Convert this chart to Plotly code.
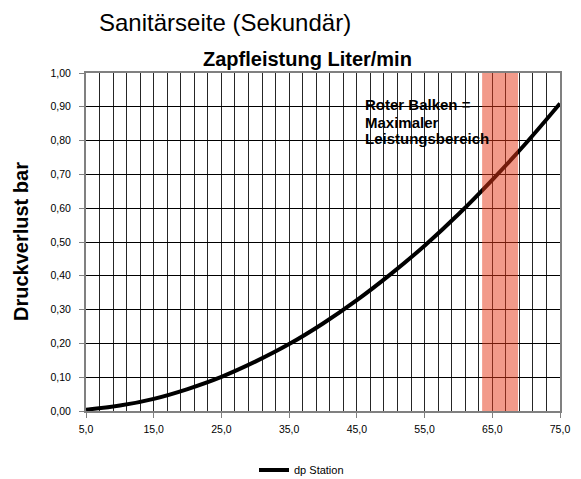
import plotly.graph_objects as go

flow = [5, 10, 15, 20, 25, 30, 35, 40, 45, 50, 55, 60, 65, 70, 75]
dp_station = [0.004, 0.016, 0.036, 0.065, 0.101, 0.146, 0.198, 0.259, 0.328, 0.405, 0.489, 0.582, 0.684, 0.793, 0.910]
band_range = [63.5, 68.8]
x_ticks = [5, 15, 25, 35, 45, 55, 65, 75]
x_ticktext = ["5,0", "15,0", "25,0", "35,0", "45,0", "55,0", "65,0", "75,0"]
y_ticks = [0, 0.1, 0.2, 0.3, 0.4, 0.5, 0.6, 0.7, 0.8, 0.9, 1.0]
y_ticktext = ["0,00", "0,10", "0,20", "0,30", "0,40", "0,50", "0,60", "0,70", "0,80", "0,90", "1,00"]
note_lines = ["Roter Balken =", "Maximaler", "Leistungsbereich"]
note_y = [0.907, 0.855, 0.806]

FONT = "Arial, Liberation Sans, sans-serif"

fig = go.Figure()
fig.add_trace(go.Scatter(x=flow, y=dp_station, mode="lines", name="dp Station",
                         line=dict(color="black", width=4, shape="spline")))

fig.add_shape(type="rect", xref="x", yref="y", x0=band_range[0], x1=band_range[1], y0=0, y1=1,
              fillcolor="rgba(229,53,21,0.5)", line=dict(width=0), layer="above")

for txt, yy in zip(note_lines, note_y):
    fig.add_annotation(x=45.95, y=yy, xref="x", yref="y", xanchor="left", yanchor="middle",
                       text="<b>" + txt + "</b>", showarrow=False, align="left",
                       font=dict(family=FONT, size=15, color="black"))

# chart title
fig.add_annotation(x=(97 - 86) / 474, y=1 + (73 - 22) / 338, xref="paper", yref="paper",
                   xanchor="left", yanchor="middle", text="Sanitärseite (Sekundär)", showarrow=False,
                   font=dict(family=FONT, size=24, color="black"))
# x axis title (top)
fig.add_annotation(x=(307 - 86) / 474, y=1.0, xref="paper", yref="paper", xanchor="center",
                   yanchor="bottom", text="<b>Zapfleistung Liter/min</b>", showarrow=False, yshift=1,
                   font=dict(family=FONT, size=20, color="black"))
# y axis title
fig.add_annotation(x=(21 - 86) / 474, y=0.5, xref="paper", yref="paper", xanchor="center",
                   yanchor="middle", text="<b>Druckverlust bar</b>", showarrow=False, textangle=-90,
                   font=dict(family=FONT, size=20, color="black"))

# page body adds an 8px offset, so the figure is sized/margined to compensate
fig.update_layout(
    width=573, height=471,
    margin=dict(l=78, r=21, t=65, b=68, autoexpand=False),
    paper_bgcolor="white", plot_bgcolor="white",
    font=dict(family=FONT, size=10.5, color="black"),
    showlegend=True,
    legend=dict(orientation="h", x=(254 - 86) / 474, xanchor="left", y=-(470 - 411) / 338,
                yanchor="middle", font=dict(size=11, family=FONT), bgcolor="rgba(0,0,0,0)"),
    xaxis=dict(range=[5, 75], tickvals=x_ticks, ticktext=x_ticktext, showgrid=True,
               gridcolor="#262626", gridwidth=1,
               minor=dict(tick0=5, dtick=2, showgrid=True, gridcolor="#262626", gridwidth=1),
               showline=True, linecolor="#808080", linewidth=2, mirror=True,
               ticks="outside", ticklen=5, tickcolor="#808080", zeroline=False,
               automargin=False, ticklabelstandoff=2),
    yaxis=dict(range=[0, 1.0], tickvals=y_ticks, ticktext=y_ticktext, showgrid=True,
               gridcolor="black", gridwidth=1,
               showline=True, linecolor="#808080", linewidth=2, mirror=True,
               ticks="outside", ticklen=5, tickcolor="#808080", zeroline=False,
               automargin=False, ticklabelstandoff=6),
)

fig.write_html("out.html")
